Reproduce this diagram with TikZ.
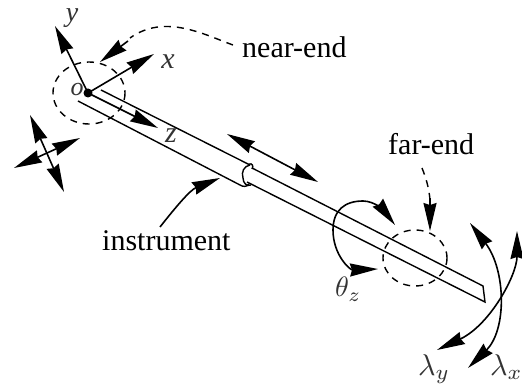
\documentclass[tikz,border=0pt]{standalone}
\usepackage{fontspec}
\setmainfont{Liberation Serif}
\usetikzlibrary{arrows.meta}
\tikzset{
  hd/.tip={Stealth[length=28pt,width=13pt,inset=2pt]},
  ln/.style={line width=1.4pt,black},
  ar/.style={line width=1.6pt,black,-hd},
  dar/.style={line width=1.6pt,black,hd-hd},
  dsh/.style={line width=1.4pt,black,dash pattern=on 7pt off 6pt},
  lab/.style={inner sep=0pt,anchor=base west,font=\fontsize{30}{30}\selectfont},
  sym/.style={inner sep=0pt,font=\fontsize{30}{30}\selectfont\itshape,text=black!80},
  msym/.style={inner sep=0pt,anchor=base west,text=black!80},
}
\begin{document}
\begin{tikzpicture}[x=1pt,y=-1pt]
\useasboundingbox (0,0) rectangle (522,387);
% origin
\coordinate (O) at (88,93);
\coordinate (Yt) at (55,26);
\coordinate (Xt) at (154,54);
\coordinate (Zt) at (158,128);
\fill[black] (O) circle (4.5);
\draw[ar] (O) -- (Yt);
\draw[ar] (O) -- (Xt);
\draw[ar] (O) -- (Zt);
\node[sym,font=\fontsize{28}{28}\selectfont\itshape] (y) at (72,18) {y};
\node[sym] (x) at (168,62) {x};
\node[sym,font=\fontsize{26}{26}\selectfont\itshape] (o) at (77,90) {o};
\node[sym] (z) at (171,136) {z};
\draw[dsh] (89,93) ellipse [x radius=36,y radius=31];
% instrument
\draw[ln] (101,90) -- (250,165);
\draw[ln] (78,101) -- (240,185);
\draw[ln] (250,165) .. controls (244,166) and (241,172) .. (243,178) .. controls (243,183) and (247,187) .. (251,185);
\draw[ln] (240,185) .. controls (243,187) and (247,187) .. (249,184);
\draw[ln] (249,164) .. controls (252,163) and (254,166) .. (252,169);
\draw[ln] (252,168) -- (483,286) -- (485,302) -- (247,182);
% translation arrows
\coordinate (Da) at (227,134);
\coordinate (Db) at (318,182);
\draw[dar] (Da) -- (Db);
\coordinate (Ca) at (30,115);
\coordinate (Cb) at (64,192);
\coordinate (Cc) at (14,168);
\coordinate (Cd) at (80,138);
\draw[dar] (Ca) -- (Cb);
\draw[dar] (Cc) -- (Cd);
% near-end
\node[lab] (near) at (242,58) {near-end};
\draw[dsh] (233,45) .. controls (205,35) and (165,13) .. (130,38);
\draw[ar] (128,41) -- (100,62);
% far-end
\node[lab] (far) at (388,155) {far-end};
\draw[dsh] (422,168) .. controls (426,178) and (429,188) .. (430,200);
\draw[ar] (430,198) -- (430,231);
\draw[dsh] (415,258) ellipse [x radius=32,y radius=28];
% instrument label
\node[lab] (inst) at (102,251) {instrument};
\draw[ar] (160,227) .. controls (175,208) and (190,190) .. (220,178);
% theta
\draw[dar] (378,269) .. controls (350,270) and (333,255) .. (333,230)
  .. controls (333,210) and (345,201) .. (363,201)
  .. controls (375,201) and (385,212) .. (395,225);
\node[msym] (th) at (335,297) {\scalebox{2.8}{$\theta_z$}};
% lambda
\draw[dar] (470,223) .. controls (506,270) and (507,330) .. (468,368);
\draw[dar] (517,231) .. controls (517,275) and (490,325) .. (437,350);
\node[msym] (ly) at (418,375) {\scalebox{3}{$\lambda_y$}};
\node[msym] (lx) at (490,375) {\scalebox{3}{$\lambda_x$}};
\end{tikzpicture}
\end{document}
